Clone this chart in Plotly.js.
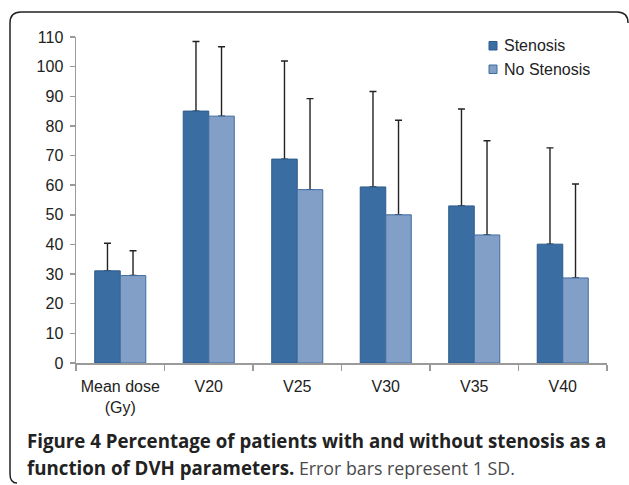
<!DOCTYPE html>
<html>
<head>
<meta charset="utf-8">
<script src="https://cdn.plot.ly/plotly-3.0.1.min.js"></script>
<style>html,body{margin:0;padding:0;background:#fff;}#chart{width:629px;height:485px;}</style>
</head>
<body>
<div id="chart"></div>
<script>
var categories = ["Mean dose<br>(Gy)", "V20", "V25", "V30", "V35", "V40"];
var stenosisValues = [31.1, 85.0, 68.8, 59.4, 53.0, 40.1];
var stenosisSD = [9.3, 23.5, 33.1, 32.2, 32.7, 32.5];
var noStenosisValues = [29.5, 83.3, 58.5, 50.0, 43.2, 28.7];
var noStenosisSD = [8.4, 23.4, 30.7, 31.9, 31.8, 31.7];
var seriesNames = ["Stenosis", "No Stenosis"];
var yTicks = [0, 10, 20, 30, 40, 50, 60, 70, 80, 90, 100, 110];
var captionBold1 = "Figure 4 Percentage of patients with and without stenosis as a";
var captionBold2 = "function of DVH parameters.";
var captionRest = " Error bars represent 1 SD.";

var W = 629, H = 485;
var M = {l: 76, r: 22, t: 37, b: 122};
var PW = W - M.l - M.r, PH = H - M.t - M.b;
function px(x) { return (x - M.l) / PW; }
function py(y) { return (H - M.b - y) / PH; }

var colStenosis = "#3a6da1", lineStenosis = "#2c5b8d";
var colNo = "#819fc7", lineNo = "#3f6c9f";

function errSpec(sd) {
  return {type: "data", symmetric: false, array: sd, arrayminus: sd.map(function(){return 0;}),
          color: "#222", thickness: 1.4, width: 3.5};
}

// error-bar layers first (transparent bars), visible bars drawn on top
var traces = [
  {type: "bar", name: seriesNames[0] + " SD", x: categories, y: stenosisValues, offsetgroup: "s",
   marker: {color: "rgba(0,0,0,0)", line: {width: 0}}, error_y: errSpec(stenosisSD), hoverinfo: "skip"},
  {type: "bar", name: seriesNames[1] + " SD", x: categories, y: noStenosisValues, offsetgroup: "n",
   marker: {color: "rgba(0,0,0,0)", line: {width: 0}}, error_y: errSpec(noStenosisSD), hoverinfo: "skip"},
  {type: "bar", name: seriesNames[0], x: categories, y: stenosisValues, offsetgroup: "s",
   marker: {color: colStenosis, line: {color: lineStenosis, width: 1}}, hoverinfo: "y"},
  {type: "bar", name: seriesNames[1], x: categories, y: noStenosisValues, offsetgroup: "n",
   marker: {color: colNo, line: {color: lineNo, width: 1}}, hoverinfo: "y"}
];

function framePath() {
  var pts = [
    ["M", 628, 23], ["Q", 628, 12, 617, 12], ["L", 21, 12], ["Q", 10, 12, 10, 23],
    ["L", 10, 474], ["Q", 10, 483, 17, 483]
  ];
  return pts.map(function(p) {
    var s = p[0];
    for (var i = 1; i < p.length; i += 2) {
      s += (i > 1 ? " " : "") + px(p[i]).toFixed(5) + "," + py(p[i + 1]).toFixed(5);
    }
    return s;
  }).join(" ");
}

var shapes = [
  {type: "path", xref: "paper", yref: "paper", path: framePath(), line: {color: "#222", width: 1.5}},
  {type: "rect", xref: "paper", yref: "paper", x0: px(489), x1: px(497), y0: py(50), y1: py(41.5),
   fillcolor: colStenosis, line: {color: lineStenosis, width: 1}},
  {type: "rect", xref: "paper", yref: "paper", x0: px(489), x1: px(497), y0: py(73.5), y1: py(65),
   fillcolor: colNo, line: {color: lineNo, width: 1}}
];

var legendFont = {family: "Liberation Sans, Arial, sans-serif", size: 16, color: "#222"};
var captionFont = {family: "Open Sans, sans-serif", size: 18.7, color: "#222"};
var annotations = [
  {xref: "paper", yref: "paper", x: px(502), y: py(46), xanchor: "left", yanchor: "middle",
   text: seriesNames[0], showarrow: false, font: legendFont},
  {xref: "paper", yref: "paper", x: px(502), y: py(69.5), xanchor: "left", yanchor: "middle",
   text: seriesNames[1], showarrow: false, font: legendFont},
  {xref: "paper", yref: "paper", x: px(25), y: py(440), xanchor: "left", yanchor: "middle",
   text: "<b>" + captionBold1 + "</b>", showarrow: false, font: captionFont},
  {xref: "paper", yref: "paper", x: px(25), y: py(467), xanchor: "left", yanchor: "middle",
   text: "<b>" + captionBold2 + "</b><span style=\"color:#4a4a4a;font-size:17.8px\">" + captionRest + "</span>",
   showarrow: false, font: captionFont}
];

var layout = {
  width: W, height: H,
  margin: M,
  paper_bgcolor: "#fff", plot_bgcolor: "#fff",
  showlegend: false,
  barmode: "group", bargap: 0.423, bargroupgap: 0,
  font: {family: "Liberation Sans, Arial, sans-serif", size: 16, color: "#222"},
  xaxis: {
    type: "category",
    showline: true, linecolor: "#9a9a9a", linewidth: 1.5,
    ticks: "outside", tickson: "boundaries", ticklen: 6, tickcolor: "#9a9a9a", tickwidth: 1.5,
    showgrid: false, zeroline: false, tickangle: 0,
    tickfont: {size: 16, color: "#222"},
    ticklabelstandoff: 8
  },
  yaxis: {
    range: [0, 110], tickvals: yTicks, ticktext: yTicks.map(String),
    showline: true, linecolor: "#9a9a9a", linewidth: 1.5,
    ticks: "outside", ticklen: 5, tickcolor: "#9a9a9a", tickwidth: 1.5,
    showgrid: false, zeroline: false,
    tickfont: {size: 16, color: "#222"},
    ticklabelstandoff: 3
  },
  shapes: shapes,
  annotations: annotations
};

Plotly.newPlot("chart", traces, layout, {displayModeBar: false, staticPlot: true});
</script>
</body>
</html>
